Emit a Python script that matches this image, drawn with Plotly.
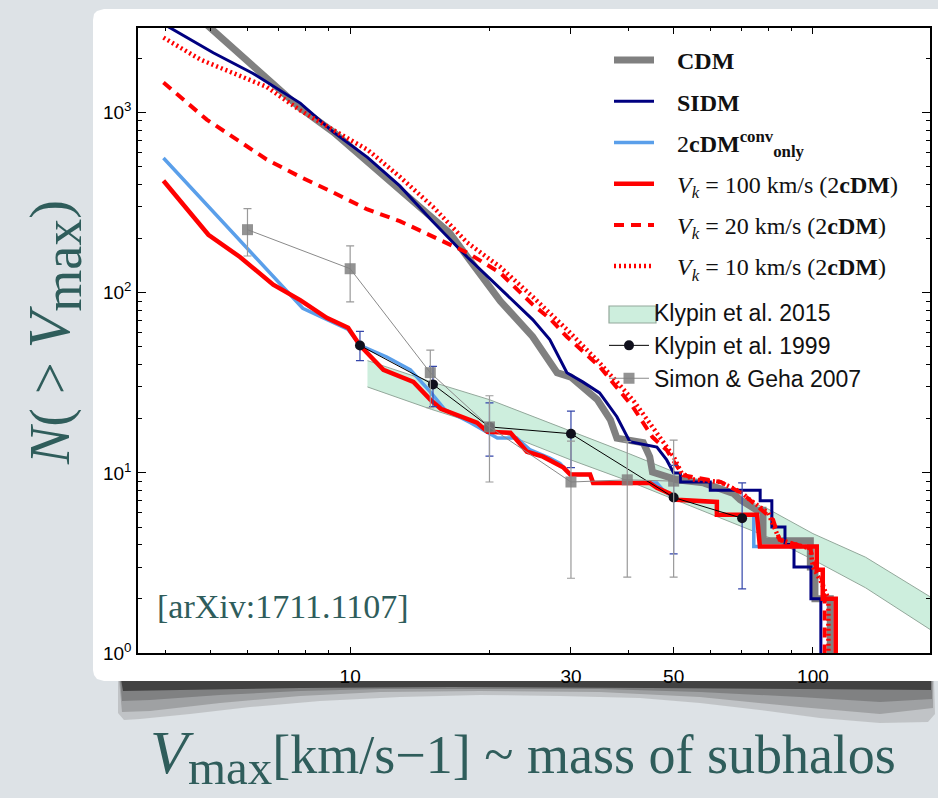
import plotly.graph_objects as go

# ---------------- data ----------------
# Cumulative subhalo counts N(>Vmax) for each model
cdm_v = [4.0, 5.0, 6.2, 7.8, 9.2, 11.6, 14.0, 16.4, 18.2, 21.1, 24.8, 26.5, 28.0, 30.0, 31.8, 34.2,
         36.5, 37.7, 43.0, 44.4, 45.0, 50.8, 58.0, 67.3, 69.6, 75.7, 78.0, 78.0, 98.7, 98.7, 101.0,
         101.0, 109.0, 109.0]
cdm_n = [4900, 2950, 1820, 1060, 780, 470, 307, 215, 150, 90, 57, 45, 36, 34, 30, 25.5,
         19.7, 15.6, 14.7, 12.3, 10.1, 9.15, 8.8, 7.7, 7.1, 6.2, 6.2, 4.2, 4.2, 3.0, 3.0,
         2.0, 2.0, 0.5]

sidm_v = [4.0, 5.06, 6.17, 7.8, 9.2, 10.9, 12.8, 15.1, 17.9, 21.1, 24.8, 27.0, 29.4, 31.8, 34.6,
          37.7, 40.2, 46.0, 48.3, 50.0, 51.7, 51.7, 60.0, 60.0, 76.9, 76.9, 81.5, 81.5, 87.0,
          87.0, 91.0, 91.0, 99.0, 99.0, 104.0, 104.0]
sidm_n = [3050, 2150, 1650, 1130, 780, 565, 392, 248, 158, 105, 71, 55, 36, 32, 27.8,
          20.5, 14.9, 13.9, 11.8, 10.0, 10.0, 8.9, 8.9, 8.0, 8.0, 7.0, 7.0, 5.0, 5.0,
          4.0, 4.0, 3.0, 3.0, 2.0, 2.0, 0.5]

conv_v = [3.95, 7.2, 7.9, 9.9, 10.5, 12.0, 13.5, 14.9, 16.0, 18.2, 20.8, 22.9, 24.5, 27.0, 28.4,
          29.9, 33.0, 33.5, 46.0, 47.5, 50.8, 60.0, 62.0, 62.0, 74.5, 74.5, 101.9, 101.9, 105.0,
          105.0, 112.0, 112.0]
conv_n = [560, 107, 82, 62.5, 51, 44, 37.3, 28.2, 22.5, 19.0, 15.6, 15.6, 13.4, 12.1, 11.3,
          9.8, 9.8, 8.8, 8.8, 8.0, 7.1, 6.9, 6.9, 5.85, 5.85, 3.9, 3.9, 2.9, 2.9,
          2.0, 2.0, 0.5]

vk100_v = [3.95, 4.94, 5.78, 6.82, 7.8, 8.9, 9.9, 10.5, 11.8, 13.7, 14.9, 15.7, 18.8, 19.8, 22.2,
           24.1, 26.1, 28.9, 29.9, 33.0, 33.5, 44.4, 46.0, 49.0, 50.8, 60.0, 62.0, 62.0, 75.7,
           76.8, 101.9, 101.9, 105.0, 105.0, 112.0, 112.0]
vk100_n = [419, 210, 158, 111, 91, 72.6, 64, 51, 37.3, 32, 25.5, 22.7, 19.0, 16.9, 16.7,
           13.1, 12.3, 10.7, 9.8, 9.8, 8.8, 8.8, 8.26, 7.7, 7.1, 6.9, 6.9, 5.85, 5.85,
           3.9, 3.9, 2.9, 2.9, 2.0, 2.0, 0.5]

vk20_v = [3.95, 4.9, 6.6, 7.8, 9.2, 10.9, 12.8, 15.1, 17.9, 21.1, 24.8, 27.0, 29.4, 34.6, 40.8,
          45.0, 48.3, 50.0, 52.4, 63.2, 69.6, 73.0, 82.0, 84.7, 98.7, 100.0, 105.0, 106.0, 106.0]
vk20_n = [1470, 915, 550, 440, 360, 290, 250, 205, 167, 129, 86, 72, 57, 38.9, 23.3,
          15.8, 13.4, 11.6, 9.7, 8.9, 7.8, 7.1, 5.5, 4.25, 3.8, 3.3, 2.5, 2.0, 0.5]

vk10_v = [3.95, 4.75, 6.6, 7.8, 9.2, 10.9, 12.8, 15.1, 17.9, 21.1, 24.8, 29.4, 34.6, 40.8, 45.0,
          50.0, 52.0, 55.0, 63.0, 70.0, 73.0, 80.0, 84.7, 98.7, 100.0, 104.0, 108.0, 108.0]
vk10_n = [2610, 1970, 1390, 1030, 800, 623, 441, 300, 190, 139, 95, 62.5, 40.8, 25.5, 18.0,
          12.3, 10.0, 9.2, 8.9, 7.8, 7.1, 6.0, 4.25, 3.8, 3.0, 2.5, 2.0, 0.5]

# Klypin et al. 2015 band
k15_v = [10.9, 15, 20, 30, 40, 60, 80, 100, 130, 185]
k15_hi = [42, 32, 25.5, 17, 12.8, 8.4, 6.3, 4.6, 3.4, 1.95]
k15_lo = [30, 22.5, 17.8, 11.8, 9.0, 5.9, 4.4, 3.3, 2.3, 1.28]

# Klypin et al. 1999 points
k99_v = [10.5, 15.1, 20.0, 30.0, 50.0, 70.3]
k99_n = [51, 31, 18, 16.5, 7.3, 5.6]
k99_hi = [61, 39, 24.5, 22, 11, 8.8]
k99_lo = [42, 23.3, 12.4, 10.7, 3.55, 2.27]

# Simon & Geha 2007 points
sg_v = [6.0, 10.0, 14.9, 20.0, 30.0, 39.7, 50.0]
sg_n = [224, 136, 36, 18, 8.9, 9.15, 9.0]
sg_hi = [293, 182, 48, 26.8, 15, 14.9, 15.2]
sg_lo = [160, 89, 23, 8.9, 2.6, 2.64, 2.64]

x_ticks = [10, 30, 50, 100]
x_minor = [4, 5, 6, 7, 8, 9, 20, 40, 60, 70, 80, 90, 200]
y_ticks = [1, 10, 100, 1000]
y_ticktext = ["10<sup>0</sup>", "10<sup>1</sup>", "10<sup>2</sup>", "10<sup>3</sup>"]
y_minor = [m * d for d in (1, 10, 100) for m in range(2, 10)] + [2000, 3000]

# ---------------- page geometry ----------------
W, H = 938, 798
ML, MR, MT, MB = 138, 8, 28, 145
PW, PH = W - ML - MR, H - MT - MB


def fx(x):
    return (x - ML) / PW


def fy(y):
    return (H - MB - y) / PH


def path(points, close=True):
    s = "M " + " L ".join(f"{fx(x):.5f},{fy(y):.5f}" for x, y in points)
    return s + (" Z" if close else "")


TEAL = "#2f5d5b"
SERIF = "Liberation Serif"
SANS = "Liberation Sans"
BAND_FILL = "#cdeedd"
BAND_EDGE = "#93a89b"

fig = go.Figure()

# Klypin 2015 band, drawn first so every curve sits on top of it
bx = k15_v + k15_v[::-1]
by = k15_hi + k15_lo[::-1]
fig.add_trace(go.Scatter(x=bx, y=by, fill="toself", fillcolor=BAND_FILL, mode="lines",
                         line=dict(width=1, color=BAND_EDGE), showlegend=False,
                         hoverinfo="skip"))
# legend entry for the band (its swatch is a box drawn beside the label)
fig.add_trace(go.Scatter(x=[None], y=[None], mode="lines", line=dict(width=0),
                         name="Klypin et al. 2015", legend="legend2", hoverinfo="skip"))

models = [
    (cdm_v, cdm_n, "<b>CDM</b>", dict(color="#808080", width=7)),
    (sidm_v, sidm_n, "<b>SIDM</b>", dict(color="#000080", width=3)),
    (conv_v, conv_n, "2<b>cDM</b><sup><b>conv</b></sup><sub><b>only</b></sub>",
     dict(color="#5a9fea", width=3.5)),
    (vk100_v, vk100_n, "<i>V</i><sub><i>k</i></sub> = 100 km/s (2<b>cDM</b>)",
     dict(color="#ff0000", width=4.5)),
    (vk20_v, vk20_n, "<i>V</i><sub><i>k</i></sub> = 20 km/s (2<b>cDM</b>)",
     dict(color="#ff0000", width=4, dash="10px,7px")),
    (vk10_v, vk10_n, "<i>V</i><sub><i>k</i></sub> = 10 km/s (2<b>cDM</b>)",
     dict(color="#ff0000", width=4.5, dash="2px,3px")),
]
for i, (v, n, name, ln) in enumerate(models):
    fig.add_trace(go.Scatter(x=v, y=n, mode="lines", line=ln, name="\u00a0\u00a0\u00a0" + name,
                             legendgroup=f"m{i}", legend="legend", hoverinfo="skip"))

fig.add_trace(go.Scatter(
    x=k99_v, y=k99_n, mode="lines+markers", name="Klypin et al. 1999", legend="legend2",
    line=dict(color="#000000", width=1),
    marker=dict(symbol="circle", size=10, color="#10101c"),
    error_y=dict(type="data", symmetric=False,
                 array=[h - n for h, n in zip(k99_hi, k99_n)],
                 arrayminus=[n - l for n, l in zip(k99_n, k99_lo)],
                 color="#3446aa", thickness=1.2, width=4),
    hoverinfo="skip"))

fig.add_trace(go.Scatter(
    x=sg_v, y=sg_n, mode="lines+markers", name="Simon & Geha 2007", legend="legend2",
    line=dict(color="#8a8a8a", width=1),
    marker=dict(symbol="square", size=11, color="rgba(128,128,128,0.85)"),
    error_y=dict(type="data", symmetric=False,
                 array=[h - n for h, n in zip(sg_hi, sg_n)],
                 arrayminus=[n - l for n, l in zip(sg_n, sg_lo)],
                 color="#9a9a9a", thickness=1.2, width=4),
    hoverinfo="skip"))

# ---------------- page decoration: card and its soft shadow ----------------
shadow_layers = [
    ([(118, 679), (934, 679), (935, 714), (928, 722), (880, 723), (820, 718), (760, 710),
      (700, 703), (640, 698), (560, 696), (480, 695), (400, 697), (320, 701), (250, 707),
      (190, 714), (140, 719), (124, 720), (118, 713)], "rgba(150,150,150,0.4)"),
    ([(119, 679), (933, 679), (933, 708), (880, 714), (800, 707), (700, 697), (600, 692),
      (480, 691), (380, 692), (300, 696), (220, 703), (150, 711), (122, 712)],
     "rgba(120,120,120,0.45)"),
    ([(120, 679), (932, 679), (932, 699), (880, 702), (800, 697), (700, 692), (600, 689),
      (480, 689), (380, 689), (300, 691), (220, 695), (150, 700), (122, 701)],
     "rgba(90,90,90,0.45)"),
    ([(121, 679), (931, 679), (931, 690), (800, 689), (650, 688), (450, 687), (300, 688),
      (180, 690), (123, 691)], "rgba(50,50,50,0.8)"),
]
card = [(104, 9), (950, 9), (950, 681), (104, 681), (97, 679), (94, 675), (93, 670),
        (93, 20), (94, 14), (97, 11)]

shapes = [dict(type="path", path=path(pts), xref="paper", yref="paper", fillcolor=col,
               line=dict(width=0), layer="below") for pts, col in shadow_layers]
shapes.append(dict(type="path", path=path(card), xref="paper", yref="paper",
                   fillcolor="#ffffff", line=dict(width=0), layer="below"))
# swatch box for the Klypin 2015 legend entry
shapes.append(dict(type="rect", xref="paper", yref="paper", x0=fx(609), x1=fx(656),
                   y0=fy(323), y1=fy(306), fillcolor=BAND_FILL,
                   line=dict(color=BAND_EDGE, width=1.2), layer="above"))

annotations = [
    dict(text="[arXiv:1711.1107]", x=fx(155), y=fy(606), xref="paper", yref="paper",
         xanchor="left", yanchor="middle", showarrow=False,
         font=dict(family=SERIF, size=34, color=TEAL)),
    dict(text="<i><span style='font-size:62px'>V</span></i>"
              "<sub><span style='font-size:49px'>max</span></sub>[km/s\u22121] ~ mass of subhalos",
         x=fx(523), y=fy(756), xref="paper", yref="paper", xanchor="center", yanchor="middle",
         showarrow=False, font=dict(family=SERIF, size=54, color=TEAL)),
    dict(text="<i>N</i>( > <i><span style='font-size:60px'>V</span></i>"
              "<sub><span style='font-size:54px'>max</span></sub>)",
         x=fx(54), y=fy(333), xref="paper", yref="paper", xanchor="center", yanchor="middle",
         textangle=-90, showarrow=False, font=dict(family=SERIF, size=56, color=TEAL)),
]

axis_common = dict(type="log", showgrid=False, zeroline=False, showline=True, linecolor="#000000",
                   linewidth=1.5, mirror="allticks", ticks="inside", tickcolor="#000000",
                   tickfont=dict(family=SANS, size=19, color="#000000"))

fig.update_layout(
    width=W, height=H, margin=dict(l=ML, r=MR, t=MT, b=MB, autoexpand=False),
    paper_bgcolor="#dde2e6", plot_bgcolor="rgba(0,0,0,0)",
    xaxis=dict(range=[0.5416, 2.2529], tickvals=x_ticks, ticktext=[str(t) for t in x_ticks],
               ticklen=6, tickwidth=1,
               minor=dict(tickmode="array", tickvals=x_minor, ticklen=3, ticks="inside",
                          tickcolor="#000000"),
               ticklabelstandoff=5, **axis_common),
    yaxis=dict(range=[0, 3.47], tickvals=y_ticks, ticktext=y_ticktext, ticklen=8, tickwidth=1,
               minor=dict(tickmode="array", tickvals=y_minor, ticklen=4, ticks="inside",
                          tickcolor="#000000"),
               ticklabelstandoff=1, **axis_common),
    legend=dict(x=fx(609), y=fy(38), xanchor="left", yanchor="top", bgcolor="rgba(0,0,0,0)",
                borderwidth=0, font=dict(family=SERIF, size=24, color="#111111"),
                itemwidth=40, tracegroupgap=7, traceorder="grouped"),
    legend2=dict(x=fx(604), y=fy(291), xanchor="left", yanchor="top", bgcolor="rgba(0,0,0,0)",
                 borderwidth=0, font=dict(family=SANS, size=23, color="#111111"),
                 itemwidth=40, traceorder="normal"),
    shapes=shapes, annotations=annotations, showlegend=True,
)

fig.write_html("out.html")
